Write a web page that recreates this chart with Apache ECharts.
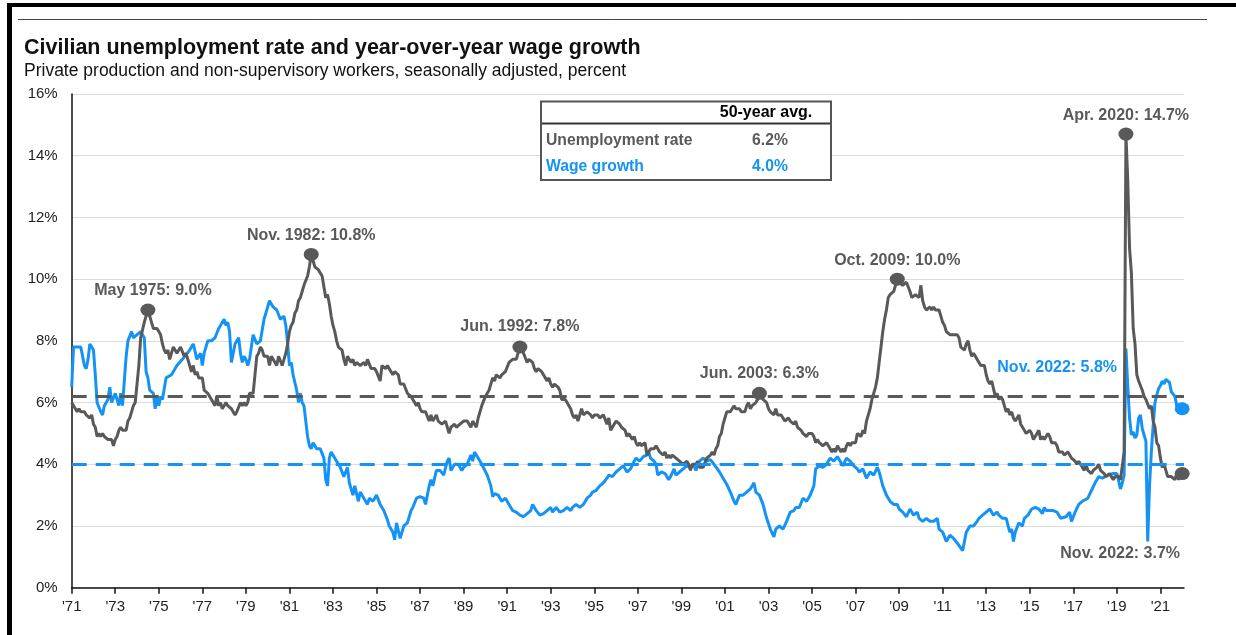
<!DOCTYPE html>
<html><head><meta charset="utf-8">
<script src="https://cdn.jsdelivr.net/npm/echarts@6/dist/echarts.min.js"></script>
<style>html,body{margin:0;padding:0;background:#fff}#c{width:1236px;height:635px}</style>
</head><body><div id="c"></div>
<script>
// ---------------- DATA ----------------
const axisStart = '1971-11';           // first month on the x axis
const axisMonths = 613;                // months shown on the x axis
const tickLabels = ["'71","'73","'75","'77","'79","'81","'83","'85","'87","'89","'91","'93","'95",
  "'97","'99","'01","'03","'05","'07","'09","'11","'13","'15","'17","'19","'21"];

const unemploymentStart = '1971-11';
const unemploymentRate = [
  6.0,6.0,
  5.8,5.7,5.8,5.7,5.7,5.7,5.6,5.6,5.5,5.6,5.3,5.2,
  4.9,5.0,4.9,5.0,4.9,4.9,4.8,4.8,4.8,4.6,4.8,4.9,
  5.1,5.2,5.1,5.1,5.1,5.4,5.5,5.5,5.9,6.0,6.6,7.2,
  8.1,8.1,8.6,8.8,9.0,8.8,8.6,8.4,8.4,8.4,8.3,8.2,
  7.9,7.7,7.6,7.7,7.4,7.6,7.8,7.8,7.6,7.7,7.8,7.8,
  7.5,7.6,7.4,7.2,7.0,7.2,6.9,7.0,6.8,6.8,6.8,6.4,
  6.4,6.3,6.3,6.1,6.0,5.9,6.2,5.9,6.0,5.8,5.9,6.0,
  5.9,5.9,5.8,5.8,5.6,5.7,5.7,6.0,5.9,6.0,5.9,6.0,
  6.3,6.3,6.3,6.9,7.5,7.6,7.8,7.7,7.5,7.5,7.5,7.2,
  7.5,7.4,7.4,7.2,7.5,7.5,7.2,7.4,7.6,7.9,8.3,8.5,
  8.6,8.9,9.0,9.3,9.4,9.6,9.8,9.8,10.1,10.4,10.8,10.8,
  10.4,10.4,10.3,10.2,10.1,10.1,9.4,9.5,9.2,8.8,8.5,8.3,
  8.0,7.8,7.8,7.7,7.4,7.2,7.5,7.5,7.3,7.4,7.2,7.3,
  7.3,7.2,7.2,7.3,7.2,7.4,7.4,7.1,7.1,7.1,7.0,7.0,
  6.7,7.2,7.2,7.1,7.2,7.2,7.0,6.9,7.0,7.0,6.9,6.6,
  6.6,6.6,6.6,6.3,6.3,6.2,6.1,6.0,5.9,6.0,5.8,5.7,
  5.7,5.7,5.7,5.4,5.6,5.4,5.4,5.6,5.4,5.4,5.3,5.3,
  5.4,5.2,5.0,5.2,5.2,5.3,5.2,5.2,5.3,5.3,5.4,5.4,
  5.4,5.3,5.2,5.4,5.4,5.2,5.5,5.7,5.9,5.9,6.2,6.3,
  6.4,6.6,6.8,6.7,6.9,6.9,6.8,6.9,6.9,7.0,7.0,7.3,
  7.3,7.4,7.4,7.4,7.6,7.8,7.7,7.6,7.6,7.3,7.4,7.4,
  7.3,7.1,7.0,7.1,7.1,7.0,6.9,6.8,6.7,6.8,6.6,6.5,
  6.6,6.6,6.5,6.4,6.1,6.1,6.1,6.0,5.9,5.8,5.6,5.5,
  5.6,5.4,5.4,5.8,5.6,5.6,5.7,5.7,5.6,5.5,5.6,5.6,
  5.6,5.5,5.5,5.6,5.6,5.3,5.5,5.1,5.2,5.2,5.4,5.4,
  5.3,5.2,5.2,5.1,4.9,5.0,4.9,4.8,4.9,4.7,4.6,4.7,
  4.6,4.6,4.7,4.3,4.4,4.5,4.5,4.5,4.6,4.5,4.4,4.4,
  4.3,4.4,4.2,4.3,4.2,4.3,4.3,4.2,4.2,4.1,4.1,4.0,
  4.0,4.1,4.0,3.8,4.0,4.0,4.0,4.1,3.9,3.9,3.9,3.9,
  4.2,4.2,4.3,4.4,4.3,4.5,4.6,4.9,5.0,5.3,5.5,5.7,
  5.7,5.7,5.7,5.9,5.8,5.8,5.8,5.7,5.7,5.7,5.9,6.0,
  5.8,5.9,5.9,6.0,6.1,6.3,6.2,6.1,6.1,6.0,5.8,5.7,
  5.7,5.6,5.8,5.6,5.6,5.6,5.5,5.4,5.4,5.5,5.4,5.4,
  5.3,5.4,5.2,5.2,5.1,5.0,5.0,4.9,5.0,5.0,5.0,4.9,
  4.7,4.8,4.7,4.7,4.6,4.6,4.7,4.7,4.5,4.4,4.5,4.4,
  4.6,4.5,4.4,4.5,4.4,4.6,4.7,4.6,4.7,4.7,4.7,5.0,
  5.0,4.9,5.1,5.0,5.4,5.6,5.8,6.1,6.1,6.5,6.8,7.3,
  7.8,8.3,8.7,9.0,9.4,9.5,9.5,9.6,9.8,10.0,9.9,9.9,
  9.8,9.8,9.9,9.9,9.6,9.4,9.4,9.5,9.5,9.4,9.8,9.3,
  9.1,9.0,9.0,9.1,9.0,9.1,9.0,9.0,9.0,8.8,8.6,8.5,
  8.3,8.3,8.2,8.2,8.2,8.2,8.2,8.1,7.8,7.8,7.7,7.9,
  8.0,7.7,7.5,7.6,7.5,7.5,7.3,7.2,7.2,7.2,6.9,6.7,
  6.6,6.7,6.7,6.2,6.3,6.1,6.2,6.1,5.9,5.7,5.8,5.6,
  5.7,5.5,5.4,5.4,5.6,5.3,5.2,5.1,5.0,5.0,5.1,5.0,
  4.8,4.9,5.0,5.1,4.8,4.9,4.8,4.9,5.0,4.9,4.7,4.7,
  4.7,4.6,4.4,4.4,4.4,4.3,4.3,4.4,4.3,4.2,4.2,4.1,
  4.0,4.1,4.0,4.0,3.8,4.0,3.8,3.8,3.7,3.8,3.8,3.9,
  4.0,3.8,3.8,3.7,3.6,3.6,3.7,3.6,3.5,3.6,3.6,3.6,
  3.5,3.5,4.4,14.7,13.2,11.0,10.2,8.4,7.9,6.9,6.7,6.7,
  6.4,6.2,6.1,6.1,5.8,5.9,5.4,5.2,4.7,4.6,4.2,3.9,
  4.0,3.8,3.6,3.6,3.6,3.6,3.5,3.7,3.5,3.7,3.7
];

const wageGrowth = [
  ['1971-11',6.5],['1971-12',7.8],['1972-02',7.8],['1972-04',7.8],['1972-06',7.2],['1972-07',7.1],
  ['1972-08',7.4],['1972-09',7.9],['1972-11',7.7],['1972-12',6.9],['1973-01',6.0],['1973-03',5.7],
  ['1973-04',5.6],['1973-05',5.9],['1973-07',6.1],['1973-08',6.5],['1973-09',6.0],['1973-11',6.3],
  ['1974-01',5.9],['1974-02',6.3],['1974-03',5.9],['1974-04',6.7],['1974-05',7.5],['1974-06',8.0],
  ['1974-08',8.3],['1974-09',8.1],['1974-10',8.1],['1975-01',8.3],['1975-03',8.1],['1975-04',7.0],
  ['1975-05',6.8],['1975-06',6.4],['1975-08',6.3],['1975-09',5.8],['1975-10',6.2],['1975-11',5.9],
  ['1975-12',6.2],['1976-01',6.1],['1976-03',6.8],['1976-06',6.9],['1976-09',7.2],['1976-12',7.4],
  ['1977-04',7.7],['1977-06',7.9],['1977-08',7.4],['1977-10',7.6],['1977-11',7.2],['1977-12',7.6],
  ['1978-02',8.0],['1978-04',8.0],['1978-06',8.1],['1978-08',8.4],['1978-09',8.5],['1978-11',8.7],
  ['1978-12',8.5],['1979-01',8.6],['1979-02',8.3],['1979-03',7.3],['1979-05',7.9],['1979-07',8.1],
  ['1979-08',7.6],['1979-09',7.3],['1979-10',7.5],['1979-11',7.4],['1979-12',7.2],['1980-01',7.4],
  ['1980-03',8.2],['1980-05',7.9],['1980-07',8.0],['1980-09',8.7],['1980-10',8.9],['1980-12',9.3],
  ['1981-02',9.1],['1981-04',9.0],['1981-06',8.7],['1981-08',8.8],['1981-09',8.5],['1981-10',7.9],
  ['1981-11',7.2],['1981-12',7.3],['1982-01',6.9],['1982-03',6.4],['1982-04',6.0],['1982-05',6.3],
  ['1982-06',6.0],['1982-07',5.9],['1982-09',4.9],['1982-10',4.6],['1982-11',4.5],['1982-12',4.7],
  ['1983-02',4.5],['1983-04',4.5],['1983-06',4.2],['1983-07',3.5],['1983-08',3.3],['1983-09',4.2],
  ['1983-10',4.4],['1984-01',4.1],['1984-03',3.9],['1984-05',3.6],['1984-07',3.9],['1984-08',3.4],
  ['1984-10',3.0],['1984-11',3.3],['1985-01',2.8],['1985-02',3.1],['1985-04',2.9],['1985-06',2.7],
  ['1985-07',2.9],['1985-09',2.8],['1985-11',3.0],['1986-01',2.7],['1986-03',2.5],['1986-05',2.2],
  ['1986-06',2.0],['1986-08',1.8],['1986-09',1.55],['1986-10',2.1],['1986-12',1.6],['1987-02',2.0],
  ['1987-04',2.1],['1987-06',2.5],['1987-07',2.6],['1987-09',2.9],['1987-11',2.95],['1988-01',2.9],
  ['1988-02',2.7],['1988-04',3.3],['1988-05',3.5],['1988-06',3.3],['1988-08',3.8],['1988-10',3.8],
  ['1988-12',3.65],['1989-02',4.1],['1989-03',4.2],['1989-04',3.8],['1989-06',4.0],['1989-08',4.0],
  ['1989-10',3.8],['1989-11',3.9],['1990-01',4.0],['1990-03',4.3],['1990-04',4.1],['1990-05',4.4],
  ['1990-07',4.2],['1990-09',4.0],['1990-10',4.0],['1990-12',3.65],['1991-02',3.3],['1991-03',2.95],
  ['1991-04',3.05],['1991-06',3.0],['1991-08',2.8],['1991-10',2.9],['1992-01',2.6],['1992-02',2.5],
  ['1992-04',2.45],['1992-06',2.35],['1992-08',2.3],['1992-10',2.4],['1992-12',2.5],['1993-01',2.7],
  ['1993-03',2.5],['1993-05',2.35],['1993-07',2.4],['1993-09',2.5],['1993-11',2.6],['1993-12',2.45],
  ['1994-02',2.6],['1994-04',2.45],['1994-06',2.5],['1994-08',2.6],['1994-10',2.5],['1994-11',2.6],
  ['1995-01',2.7],['1995-03',2.6],['1995-05',2.7],['1995-07',2.9],['1995-09',3.0],['1995-10',3.1],
  ['1995-12',3.15],['1996-02',3.3],['1996-04',3.4],['1996-06',3.55],['1996-07',3.65],['1996-09',3.6],
  ['1996-11',3.75],['1997-01',3.85],['1997-03',3.95],['1997-05',3.75],['1997-07',3.85],['1997-09',4.1],
  ['1997-10',4.2],['1997-12',4.1],['1998-02',4.25],['1998-04',4.3],['1998-05',4.4],['1998-06',4.2],
  ['1998-08',4.1],['1998-09',4.0],['1998-10',3.65],['1998-12',3.75],['1999-02',3.7],['1999-04',3.5],
  ['1999-05',3.6],['1999-07',3.85],['1999-08',3.65],['1999-10',3.75],['1999-12',3.85],['2000-02',3.95],
  ['2000-04',3.9],['2000-06',3.95],['2000-07',3.8],['2000-09',4.1],['2000-11',4.2],['2001-01',4.1],
  ['2001-03',4.15],['2001-05',4.0],['2001-06',3.95],['2001-08',3.75],['2001-10',3.55],['2001-12',3.35],
  ['2002-02',3.1],['2002-04',2.8],['2002-05',2.7],['2002-07',3.0],['2002-09',3.0],['2002-11',3.1],
  ['2003-01',3.2],['2003-03',3.4],['2003-04',3.1],['2003-06',3.0],['2003-08',2.7],['2003-10',2.25],
  ['2003-12',1.9],['2004-02',1.65],['2004-03',1.9],['2004-05',2.0],['2004-07',1.9],['2004-09',2.15],
  ['2004-11',2.45],['2005-01',2.5],['2005-02',2.6],['2005-04',2.6],['2005-06',2.9],['2005-08',2.8],
  ['2005-10',3.0],['2005-12',3.3],['2006-01',3.85],['2006-03',3.95],['2006-05',3.9],['2006-07',4.0],
  ['2006-09',4.2],['2006-11',4.1],['2007-01',4.25],['2007-02',4.15],['2007-04',3.95],['2007-06',4.2],
  ['2007-08',4.1],['2007-10',3.95],['2007-12',3.85],['2008-01',3.75],['2008-03',3.85],['2008-05',3.55],
  ['2008-07',3.75],['2008-09',3.65],['2008-11',3.9],['2008-12',3.75],['2009-02',3.3],['2009-04',3.0],
  ['2009-06',2.8],['2009-08',2.7],['2009-10',2.7],['2009-11',2.55],['2010-01',2.45],['2010-03',2.3],
  ['2010-05',2.55],['2010-07',2.35],['2010-09',2.45],['2010-10',2.25],['2010-12',2.15],['2011-02',2.25],
  ['2011-04',2.15],['2011-06',2.15],['2011-08',2.25],['2011-09',1.9],['2011-11',1.8],['2012-01',1.5],
  ['2012-03',1.7],['2012-05',1.6],['2012-07',1.45],['2012-08',1.5],['2012-10',1.2],['2012-12',1.8],
  ['2013-02',2.0],['2013-04',2.0],['2013-06',2.15],['2013-07',2.25],['2013-09',2.35],['2013-11',2.45],
  ['2014-01',2.55],['2014-03',2.35],['2014-05',2.45],['2014-06',2.35],['2014-08',2.25],['2014-10',2.25],
  ['2014-12',1.8],['2015-01',1.9],['2015-02',1.5],['2015-03',1.8],['2015-05',2.1],['2015-07',2.0],
  ['2015-08',2.25],['2015-10',2.35],['2015-12',2.55],['2016-02',2.6],['2016-04',2.55],['2016-06',2.4],
  ['2016-07',2.6],['2016-08',2.5],['2016-10',2.5],['2016-12',2.5],['2017-02',2.45],['2017-04',2.25],
  ['2017-05',2.25],['2017-07',2.3],['2017-09',2.45],['2017-10',2.15],['2017-12',2.45],['2018-02',2.7],
  ['2018-04',2.8],['2018-05',2.85],['2018-07',2.9],['2018-09',3.15],['2018-11',3.4],['2019-01',3.6],
  ['2019-03',3.55],['2019-04',3.6],['2019-06',3.65],['2019-09',3.7],['2019-11',3.7],['2020-01',3.2],
  ['2020-02',3.4],['2020-03',3.65],['2020-04',7.75],['2020-05',6.55],['2020-06',5.5],['2020-07',4.95],
  ['2020-08',5.05],['2020-09',4.85],['2020-10',4.95],['2020-11',5.5],['2020-12',5.6],['2021-01',5.15],
  ['2021-02',4.95],['2021-03',4.75],['2021-04',1.5],['2021-05',3.3],['2021-06',4.4],['2021-07',5.25],
  ['2021-08',6.0],['2021-09',6.25],['2021-10',6.45],['2021-11',6.55],['2021-12',6.7],['2022-01',6.6],
  ['2022-02',6.75],['2022-03',6.75],['2022-04',6.65],['2022-05',6.35],['2022-06',6.3],['2022-07',6.2],
  ['2022-08',5.9],['2022-09',5.85],['2022-10',5.8],['2022-11',5.8]
];

const avgUnemployment = 6.2;
const avgWage = 4.0;

const unemploymentNotes = [
  ['1975-05', 9.0,  'May 1975: 9.0%'],
  ['1982-11', 10.8, 'Nov. 1982: 10.8%'],
  ['1992-06', 7.8,  'Jun. 1992: 7.8%'],
  ['2003-06', 6.3,  'Jun. 2003: 6.3%'],
  ['2009-10', 10.0, 'Oct. 2009: 10.0%'],
  ['2020-04', 14.7, 'Apr. 2020: 14.7%'],
  ['2022-11', 3.7,  'Nov. 2022: 3.7%']
];
const wageNotes = [
  ['2022-11', 5.8, 'Nov. 2022: 5.8%']
];

// ---------------- LAYOUT / STYLE ----------------
const GRAY = '#595959';
const BLUE = '#1493f5';
const FONT = '"Liberation Sans", Arial, sans-serif';
const noteOffsets = [[5,-19],[0,-19],[0,-20],[0,-20],[0,-19],[0,-19],[-62,80]];
const wageNoteOffsets = [[-125,-41]];

function monthIndex(s) {
  const [y, m] = s.split('-').map(Number);
  const [y0, m0] = axisStart.split('-').map(Number);
  return (y - y0) * 12 + (m - m0);
}
const u0 = monthIndex(unemploymentStart);
const unempData = unemploymentRate.map((v, i) => [u0 + i, v]);
const wageData = wageGrowth.map(([d, v]) => [monthIndex(d), v]);
const tickValues = tickLabels.map((_, i) => i * 24);

function notePoints(list, offsets) {
  return list.map(([d, v, t], i) => ({
    coord: [monthIndex(d), v],
    value: t,
    label: { offset: offsets[i] }
  }));
}

const chart = echarts.init(document.getElementById('c'), null, { renderer: 'canvas' });
chart.setOption({
  animation: false,
  backgroundColor: '#fff',
  grid: { left: 71.7, right: 52, top: 94, bottom: 47.3, containLabel: false },
  xAxis: {
    type: 'value', min: 0, max: axisMonths,
    axisLine: { show: true, onZero: false, lineStyle: { color: '#111', width: 1.5 } },
    axisTick: { show: true, length: 6, lineStyle: { color: '#111', width: 1.5 }, customValues: tickValues },
    axisLabel: { customValues: tickValues, margin: 12, fontSize: 15, fontFamily: FONT, color: '#222',
      formatter: v => tickLabels[Math.round(v / 24)] || '' },
    splitLine: { show: false }
  },
  yAxis: {
    type: 'value', min: 0, max: 16, interval: 2,
    axisLine: { show: true, lineStyle: { color: '#111', width: 1.5 } },
    axisTick: { show: false },
    axisLabel: { margin: 14, fontSize: 15, fontFamily: FONT, color: '#222', formatter: v => v + '%' },
    splitLine: { show: true, lineStyle: { color: '#dcdcdc', width: 1 } }
  },
  series: [
    {
      name: 'Wage growth', type: 'line', data: wageData, showSymbol: false, z: 3,
      lineStyle: { color: BLUE, width: 3 }, itemStyle: { color: BLUE },
      markLine: { silent: true, symbol: 'none', label: { show: false },
        lineStyle: { color: BLUE, width: 3, type: [15, 9] }, data: [{ yAxis: avgWage }] },
      markPoint: { symbol: 'circle', symbolSize: [15, 13], itemStyle: { color: BLUE },
        label: { show: true, position: 'inside', formatter: p => p.value, color: BLUE,
          fontWeight: 'bold', fontSize: 16, fontFamily: FONT },
        data: notePoints(wageNotes, wageNoteOffsets) }
    },
    {
      name: 'Unemployment rate', type: 'line', data: unempData, showSymbol: false, z: 4,
      lineStyle: { color: GRAY, width: 3 }, itemStyle: { color: GRAY },
      markLine: { silent: true, symbol: 'none', label: { show: false },
        lineStyle: { color: GRAY, width: 3, type: [15, 9] }, data: [{ yAxis: avgUnemployment }] },
      markPoint: { symbol: 'circle', symbolSize: [15, 13], itemStyle: { color: GRAY },
        label: { show: true, position: 'inside', formatter: p => p.value, color: GRAY,
          fontWeight: 'bold', fontSize: 16, fontFamily: FONT },
        data: notePoints(unemploymentNotes, noteOffsets) }
    }
  ],
  graphic: [
    // page frame
    { type: 'rect', shape: { x: 7, y: 3, width: 1229, height: 4 }, style: { fill: '#000' }, z: 10 },
    { type: 'rect', shape: { x: 7, y: 3, width: 5, height: 632 }, style: { fill: '#000' }, z: 10 },
    { type: 'line', shape: { x1: 18, y1: 19.5, x2: 1207, y2: 19.5 }, style: { stroke: '#444', lineWidth: 1 }, z: 10 },
    // titles
    { type: 'text', x: 24, y: 48, z: 10, style: { text: 'Civilian unemployment rate and year-over-year wage growth',
      font: 'bold 21.5px ' + FONT, fill: '#111', textVerticalAlign: 'middle' } },
    { type: 'text', x: 24, y: 71, z: 10, style: { text: 'Private production and non-supervisory workers, seasonally adjusted, percent',
      font: '17.5px ' + FONT, fill: '#111', textVerticalAlign: 'middle' } },
    // average table
    { type: 'rect', z: 20, shape: { x: 541, y: 101.5, width: 290, height: 78.5 }, style: { fill: '#fff', stroke: '#555', lineWidth: 2 } },
    { type: 'line', z: 21, shape: { x1: 542, y1: 123.5, x2: 830, y2: 123.5 }, style: { stroke: '#333', lineWidth: 2 } },
    { type: 'text', z: 21, x: 766, y: 113, style: { text: '50-year avg.', font: 'bold 16px ' + FONT, fill: '#000', textAlign: 'center', textVerticalAlign: 'middle' } },
    { type: 'text', z: 21, x: 546, y: 141, style: { text: 'Unemployment rate', font: 'bold 15.7px ' + FONT, fill: GRAY, textVerticalAlign: 'middle' } },
    { type: 'text', z: 21, x: 770, y: 141, style: { text: avgUnemployment.toFixed(1) + '%', font: 'bold 15.7px ' + FONT, fill: GRAY, textAlign: 'center', textVerticalAlign: 'middle' } },
    { type: 'text', z: 21, x: 546, y: 167, style: { text: 'Wage growth', font: 'bold 15.7px ' + FONT, fill: BLUE, textVerticalAlign: 'middle' } },
    { type: 'text', z: 21, x: 770, y: 167, style: { text: avgWage.toFixed(1) + '%', font: 'bold 15.7px ' + FONT, fill: BLUE, textAlign: 'center', textVerticalAlign: 'middle' } }
  ]
});
</script>
</body></html>
